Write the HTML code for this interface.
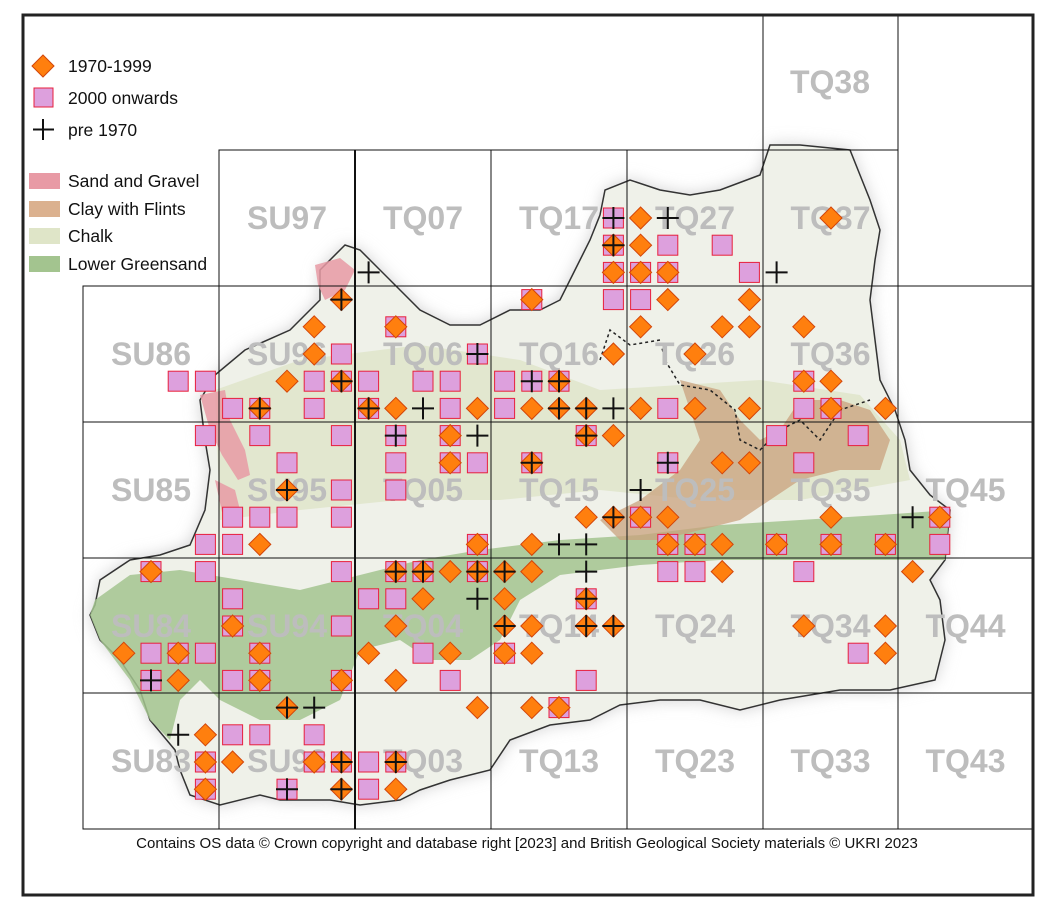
<!DOCTYPE html>
<html><head><meta charset="utf-8"><style>
html,body{margin:0;padding:0;background:#fff;}
svg{display:block;font-family:"Liberation Sans",sans-serif;}
</style></head><body>
<svg id="s" width="1054" height="905" viewBox="0 0 1054 905" xmlns="http://www.w3.org/2000/svg">
<defs>
<filter id="glow" x="-10%" y="-10%" width="120%" height="120%"><feGaussianBlur stdDeviation="8"/></filter>
</defs>
<rect x="0" y="0" width="1054" height="905" fill="#fff"/>
<g id="map">
<path id="glowp" fill="#cfcfcf" filter="url(#glow)" d=""/>
<path id="land" fill="#eff1e9" stroke="#333" stroke-width="1.5" d=""/>
<path fill="#dfe5c8" d="M215,390 L300,360 L420,345 L520,360 L600,390 L680,385 L760,380 L860,395 L900,440 L910,480 L800,500 L700,500 L600,490 L500,500 L400,500 L300,510 L220,520 Z" opacity="0.8"/>
<path fill="#a3c48f" opacity="0.85" d="M95,600 L130,575 L180,570 L240,580 L300,590 L360,575 L420,560 L480,550 L560,540 L640,535 L720,525 L800,520 L880,515 L950,510 L945,560 L870,560 L790,560 L720,560 L640,565 L560,575 L520,600 L500,640 L470,660 L430,660 L400,640 L360,650 L340,700 L300,720 L260,720 L220,700 L200,680 L180,700 L170,740 L150,720 L130,680 L100,640 L90,615 Z"/>
<path fill="#c9a27d" opacity="0.75" d="M680,380 L720,390 L740,420 L760,440 L780,430 L800,400 L840,400 L870,410 L890,440 L880,470 L840,470 L800,480 L770,500 L740,520 L700,530 L660,540 L620,540 L600,520 L640,500 L680,470 L700,440 L690,410 Z"/>
<path fill="#e89aa5" opacity="0.85" d="M200,395 L225,390 L230,420 L245,450 L250,475 L238,480 L222,455 L210,430 Z M215,480 L235,490 L240,510 L222,512 Z M315,265 L340,258 L355,270 L345,290 L325,300 L318,285 Z"/>
<path fill="none" stroke="#222" stroke-width="1.5" stroke-dasharray="3,3" d="M600,360 L610,330 L630,345 L660,340 L665,360 L680,385 L710,390 L735,410 L740,440 L760,450 L780,430 L800,420 L820,440 L840,410 L870,400"/>
</g>
<g id="grid" stroke="#111" stroke-width="1" fill="none"></g>
<g id="labels" font-size="32" font-weight="bold" fill="#bdbdbd" text-anchor="middle"></g>
<g id="marks"></g>
<rect x="23" y="15" width="1010" height="880" fill="none" stroke="#222" stroke-width="3"/>
<g font-size="17.5" fill="#111">
<path d="M43,55 L54,66 L43,77 L32,66 Z" fill="#ff7f0e" stroke="#d2450a" stroke-width="1"/>
<text x="68" y="72">1970-1999</text>
<rect x="34" y="88" width="19" height="19" fill="#dda0dd" stroke="#e8203c" stroke-width="1"/>
<text x="68" y="104">2000 onwards</text>
<path d="M43,119 V140 M33,129.5 H54" stroke="#111" stroke-width="2"/>
<text x="68" y="136">pre 1970</text>
<rect x="29" y="173" width="31" height="16" fill="#e89aa5"/>
<text x="68" y="187">Sand and Gravel</text>
<rect x="29" y="201" width="31" height="16" fill="#dbb18f"/>
<text x="68" y="215">Clay with Flints</text>
<rect x="29" y="228" width="31" height="16" fill="#dfe5c8"/>
<text x="68" y="242">Chalk</text>
<rect x="29" y="256" width="31" height="16" fill="#a3c48f"/>
<text x="68" y="270">Lower Greensand</text>
</g>
<text x="527" y="848" font-size="15" fill="#111" text-anchor="middle">Contains OS data  © Crown copyright and database right [2023] and British Geological Society materials © UKRI 2023</text>
</svg>
<script>
var NS="http://www.w3.org/2000/svg";
function el(p,t,a){var e=document.createElementNS(NS,t);for(var k in a)e.setAttribute(k,a[k]);p.appendChild(e);return e;}
var pts=[[95,605],[100,580],[130,560],[160,555],[190,545],[205,510],[210,470],[205,440],[200,400],[215,375],[245,350],[290,330],[320,300],[320,270],[345,245],[360,250],[375,265],[400,290],[420,310],[450,325],[480,325],[510,310],[540,310],[560,300],[575,270],[590,240],[600,215],[605,190],[630,180],[660,190],[690,195],[720,190],[760,175],[770,145],[800,145],[850,150],[860,175],[870,200],[880,230],[875,260],[870,300],[875,340],[880,380],[895,410],[905,440],[910,470],[930,495],[950,510],[945,560],[930,580],[940,600],[945,640],[935,680],[890,690],[840,690],[780,700],[740,710],[700,700],[660,700],[620,705],[590,720],[550,725],[510,740],[490,770],[450,780],[420,790],[400,800],[360,805],[330,800],[300,800],[280,800],[260,795],[220,805],[190,795],[180,770],[175,750],[150,720],[140,690],[120,660],[100,640],[90,615]];
var d="M"+pts.map(function(p){return p.join(",")}).join(" L")+" Z";
document.getElementById("land").setAttribute("d",d);
document.getElementById("glowp").setAttribute("d",d);
var g=document.getElementById("grid");
var X=[83,219,355,491,627,763,898,1033],Y=[150,286,422,558,693,829];
el(g,"rect",{x:763,y:15,width:135,height:135});
el(g,"path",{d:"M219,150 H898 V286 H219 Z"});
for(var r=1;r<5;r++)for(var c=0;c<7;c++)el(g,"rect",{x:X[c],y:Y[r],width:X[c+1]-X[c],height:Y[r+1]-Y[r]});
for(var c=2;c<6;c++)el(g,"line",{x1:X[c],y1:150,x2:X[c],y2:286});
el(g,"line",{x1:355,y1:150,x2:355,y2:829,"stroke-width":2});
var L=document.getElementById("labels");
function lab(t,cx,cy){var e=el(L,"text",{x:cx,y:cy+11});e.textContent=t;}
lab("TQ38",830,82);
var rows=[[150,["","SU97","TQ07","TQ17","TQ27","TQ37",""]],[286,["SU86","SU96","TQ06","TQ16","TQ26","TQ36",""]],[422,["SU85","SU95","TQ05","TQ15","TQ25","TQ35","TQ45"]],[558,["SU84","SU94","TQ04","TQ14","TQ24","TQ34","TQ44"]],[693,["SU83","SU93","TQ03","TQ13","TQ23","TQ33","TQ43"]]];
rows.forEach(function(r){r[1].forEach(function(t,c){if(t)lab(t,(X[c]+X[c+1])/2,r[0]+68);});});
function ix(x){return Math.round((x-96.6)/27.2);}
var M=[
[2,[[613,"sc"],[640,"d"],[667,"c"],[827,"d"]]],
[3,[[613,"dcs"],[640,"d"],[667,"s"],[722,"s"]]],
[4,[[368,"c"],[613,"sd"],[640,"sd"],[667,"sd"],[748,"s"],[776,"c"]]],
[5,[[341,"dc"],[531,"ds"],[613,"s"],[640,"s"],[667,"d"],[748,"d"]]],
[6,[[314,"d"],[395,"ds"],[640,"d"],[720,"d"],[748,"d"],[802,"d"]]],
[7,[[314,"d"],[341,"s"],[477,"sc"],[613,"d"],[694,"d"]]],
[8,[[179,"s"],[206,"s"],[287,"d"],[314,"s"],[341,"dcs"],[368,"s"],[422,"s"],[450,"s"],[504,"s"],[531,"sc"],[558,"sdc"],[802,"ds"],[829,"d"]]],
[9,[[233,"s"],[260,"sdc"],[314,"s"],[368,"sdc"],[395,"d"],[422,"c"],[450,"s"],[477,"d"],[504,"s"],[531,"d"],[558,"dc"],[585,"dc"],[613,"c"],[640,"d"],[667,"s"],[694,"d"],[748,"d"],[802,"s"],[829,"ds"],[884,"d"]]],
[10,[[206,"s"],[260,"s"],[341,"s"],[395,"sc"],[450,"ds"],[477,"c"],[585,"dsc"],[613,"d"],[776,"s"],[857,"s"]]],
[11,[[287,"s"],[395,"s"],[450,"ds"],[477,"s"],[531,"dsc"],[667,"sc"],[720,"d"],[748,"d"],[802,"s"]]],
[12,[[287,"dc"],[341,"s"],[395,"s"],[640,"c"]]],
[13,[[233,"s"],[260,"s"],[287,"s"],[341,"s"],[585,"d"],[613,"dc"],[640,"sd"],[667,"d"],[829,"d"],[911,"c"],[938,"ds"]]],
[14,[[206,"s"],[233,"s"],[260,"d"],[477,"ds"],[531,"d"],[558,"c"],[585,"c"],[667,"ds"],[694,"ds"],[720,"d"],[775,"sd"],[829,"ds"],[884,"ds"],[938,"s"]]],
[15,[[151,"ds"],[206,"s"],[341,"s"],[395,"dcs"],[422,"dcs"],[450,"d"],[477,"cds"],[504,"cd"],[531,"d"],[585,"c"],[667,"s"],[694,"s"],[720,"d"],[802,"s"],[911,"d"]]],
[16,[[233,"s"],[368,"s"],[395,"s"],[422,"d"],[477,"c"],[504,"d"],[585,"dcs"]]],
[17,[[233,"ds"],[341,"s"],[395,"d"],[504,"dc"],[531,"d"],[585,"dc"],[613,"dc"],[802,"d"],[884,"d"]]],
[18,[[124,"d"],[151,"s"],[179,"ds"],[206,"s"],[260,"ds"],[368,"d"],[422,"s"],[450,"d"],[504,"ds"],[531,"d"],[857,"s"],[884,"d"]]],
[19,[[151,"sc"],[179,"d"],[233,"s"],[260,"ds"],[341,"ds"],[395,"d"],[450,"s"],[585,"s"]]],
[20,[[287,"dc"],[314,"c"],[477,"d"],[531,"d"],[558,"ds"]]],
[21,[[179,"c"],[206,"d"],[233,"s"],[260,"s"],[314,"s"]]],
[22,[[206,"ds"],[233,"d"],[314,"ds"],[341,"cds"],[368,"s"],[395,"cds"]]],
[23,[[206,"ds"],[287,"sc"],[341,"dc"],[368,"s"],[395,"d"]]]
];
var mk=document.getElementById("marks");
var layers={s:el(mk,"g",{}),d:el(mk,"g",{}),c:el(mk,"g",{})};
M.forEach(function(r){var y=163.6+27.2*r[0];r[1].forEach(function(m){var x=96.6+27.2*ix(m[0]);
if(m[1].indexOf("s")>=0)el(layers.s,"rect",{x:x-10,y:y-10,width:20,height:20,fill:"#dda0dd",stroke:"#e8203c","stroke-width":1});
if(m[1].indexOf("d")>=0)el(layers.d,"path",{d:"M"+x+","+(y-11)+" L"+(x+11)+","+y+" L"+x+","+(y+11)+" L"+(x-11)+","+y+" Z",fill:"#ff7f0e",stroke:"#d2450a","stroke-width":1});
if(m[1].indexOf("c")>=0)el(layers.c,"path",{d:"M"+x+","+(y-11)+" V"+(y+11)+" M"+(x-11)+","+y+" H"+(x+11),stroke:"#111","stroke-width":2});
});});
</script>
</body></html>
